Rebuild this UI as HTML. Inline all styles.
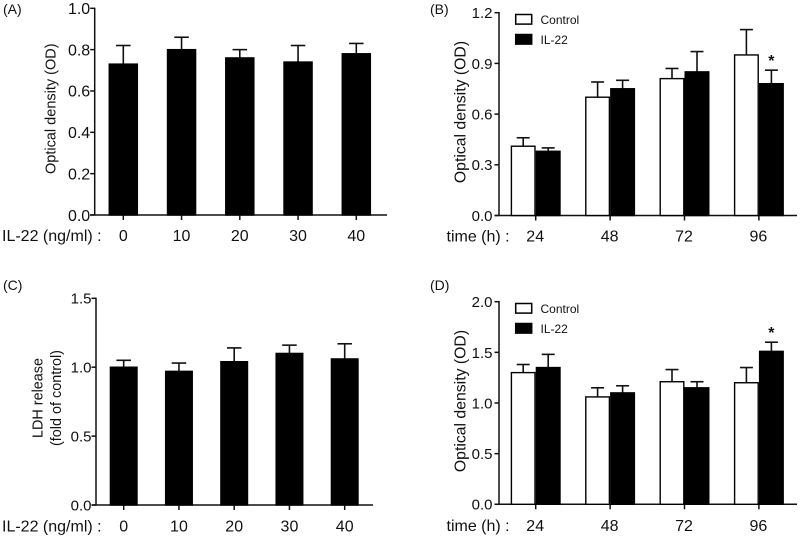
<!DOCTYPE html>
<html lang="en">
<head>
<meta charset="utf-8">
<title>IL-22 bar charts</title>
<style>
html,body{margin:0;padding:0;background:#fff;width:800px;height:538px;overflow:hidden}
svg{display:block}
text{font-family:"Liberation Sans",sans-serif;fill:#111}
</style>
</head>
<body>
<svg id="figure" width="800" height="538" viewBox="0 0 800 538" xmlns="http://www.w3.org/2000/svg"></svg>
<script>
// ---- data ----
const doseLabels = ['0', '10', '20', '30', '40'];
const timeLabels = ['24', '48', '72', '96'];

const ticksA = ['0.0', '0.2', '0.4', '0.6', '0.8', '1.0'];
const ticksB = ['0.0', '0.3', '0.6', '0.9', '1.2'];
const ticksC = ['0.0', '0.5', '1.0', '1.5'];
const ticksD = ['0.0', '0.5', '1.0', '1.5', '2.0'];

const valuesA = [0.73, 0.80, 0.76, 0.74, 0.78];
const errorTopsA = [0.82, 0.86, 0.80, 0.82, 0.83];

const controlB = [0.41, 0.70, 0.81, 0.95];
const controlTopsB = [0.46, 0.79, 0.87, 1.10];
const il22B = [0.38, 0.75, 0.85, 0.78];
const il22TopsB = [0.40, 0.80, 0.97, 0.86];
const starsB = [false, false, false, true];

const valuesC = [1.00, 0.97, 1.04, 1.10, 1.06];
const errorTopsC = [1.05, 1.03, 1.14, 1.16, 1.17];

const controlD = [1.30, 1.06, 1.21, 1.20];
const controlTopsD = [1.38, 1.15, 1.33, 1.35];
const il22D = [1.35, 1.10, 1.15, 1.51];
const il22TopsD = [1.48, 1.17, 1.21, 1.60];
const starsD = [false, false, false, true];

// ---- drawing helpers ----
const svg = document.getElementById('figure');
const NS = 'http://www.w3.org/2000/svg';

function make(parent, tag, attrs, text) {
  const el = document.createElementNS(NS, tag);
  for (const k in attrs) el.setAttribute(k, attrs[k]);
  if (text !== undefined) el.textContent = text;
  parent.appendChild(el);
  return el;
}

function line(parent, name, x1, y1, x2, y2, w) {
  const el = make(parent, 'line', {x1: x1, y1: y1, x2: x2, y2: y2, stroke: '#111', 'stroke-width': w});
  
  
  return el;
}

function label(parent, name, x, y, size, anchor, str) {
  const el = make(parent, 'text', {x: x, y: y, 'font-size': size, 'text-anchor': anchor}, str);
  
  
  return el;
}

function vLabel(parent, name, x, y, size, str) {
  const el = make(parent, 'text', {
    x: x, y: y, 'font-size': size, 'text-anchor': 'middle',
    transform: 'rotate(-90 ' + x + ' ' + y + ')'
  }, str);
  
  
  return el;
}

function drawBar(parent, name, cx, width, value, top, fill, scaleY, y0, capW) {
  const yTop = scaleY(value);
  const yErr = scaleY(top);
  line(parent, name + '-error-stem', cx, yTop, cx, yErr, 1.6);
  line(parent, name + '-error-cap', cx - capW / 2, yErr, cx + capW / 2, yErr, 1.6);
  const r = make(parent, 'rect', {
    x: cx - width / 2 + 0.7, y: yTop, width: width - 1.4, height: y0 - yTop,
    fill: fill, stroke: '#000', 'stroke-width': 1.4
  });
  
  
}

function drawAxes(g, p, ticks, cats) {
  const max = parseFloat(ticks[ticks.length - 1]);
  const scaleY = v => p.y0 - (v / max) * (p.y0 - p.yTop);
  line(g, 'y-axis', p.axisX, p.yTop - 0.7, p.axisX, p.y0, 1.5);
  line(g, 'x-axis', p.axisX - 4.5, p.y0, p.axisEnd, p.y0, 1.5);
  ticks.forEach(t => {
    const y = scaleY(parseFloat(t));
    line(g, 'y-tick', p.axisX - 4.5, y, p.axisX, y, 1.5);
    label(g, 'y-tick-label', p.axisX - p.tickGap, y + p.tickSize * 0.36, p.tickSize, 'end', t);
  });
  cats.forEach((c, i) => {
    const x = p.first + i * p.step;
    line(g, 'x-tick', x, p.y0, x, p.y0 + 5, 1.5);
    label(g, 'x-tick-label', x + p.catShift, p.labelY, p.catSize, 'middle', c);
  });
  return scaleY;
}

function singlePanel(id, p, ticks, cats, values, tops) {
  const g = make(svg, 'g', {});
  
  
  const scaleY = drawAxes(g, p, ticks, cats);
  values.forEach((v, i) => {
    drawBar(g, 'bar-' + cats[i], p.first + i * p.step, p.barW, v, tops[i], '#000', scaleY, p.y0, 14.5);
  });
  return g;
}

function groupedPanel(id, p, ticks, cats, ctrl, ctrlTops, il, ilTops, stars) {
  const g = make(svg, 'g', {});
  
  
  const scaleY = drawAxes(g, p, ticks, cats);
  cats.forEach((c, i) => {
    const cx = p.first + i * p.step;
    drawBar(g, 'control-bar-' + c, cx - p.barW / 2, p.barW, ctrl[i], ctrlTops[i], '#fff', scaleY, p.y0, 13);
    drawBar(g, 'il22-bar-' + c, cx + p.barW / 2, p.barW, il[i], ilTops[i], '#000', scaleY, p.y0, 13);
    if (stars[i]) {
      const s = label(g, 'significance-star', cx + p.barW / 2, scaleY(ilTops[i]) - 4, 16, 'middle', '*');
      s.setAttribute('font-weight', 'bold');
    }
  });
  // legend
  const ly = p.legendY;
  const c = make(g, 'rect', {x: 515.7, y: ly, width: 16, height: 9.6, fill: '#fff', stroke: '#000', 'stroke-width': 1.5});
  
  
  const d = make(g, 'rect', {x: 515.7, y: ly + 20, width: 16, height: 9.6, fill: '#000', stroke: '#000', 'stroke-width': 1.5});
  
  
  label(g, 'legend-label-control', 540.5, ly + 9.5, 12, 'start', 'Control');
  label(g, 'legend-label-il22', 540.5, ly + 29.5, 12, 'start', 'IL-22');
  return g;
}

// ---- panel A ----
const gA = singlePanel('a',
  {axisX: 94.7, axisEnd: 387, y0: 215, yTop: 8.3, first: 123.3, step: 58.25, barW: 29.5, labelY: 241, tickSize: 16, catSize: 16, tickGap: 4.5, catShift: 0},
  ticksA, doseLabels, valuesA, errorTopsA);
label(gA, 'panel-label-a', 3, 14, 14, 'start', '(A)');
vLabel(gA, 'y-axis-title', 55.6, 108.7, 14.5, 'Optical density (OD)');
label(gA, 'x-axis-title', 2, 241, 16, 'start', 'IL-22 (ng/ml) :');

// ---- panel B ----
const gB = groupedPanel('b',
  {axisX: 499, axisEnd: 797, y0: 215.5, yTop: 12.7, first: 535.7, step: 74.4, barW: 25, labelY: 241.5, tickSize: 15, catSize: 16, tickGap: 6.5, catShift: -0.5, legendY: 14.5},
  ticksB, timeLabels, controlB, controlTopsB, il22B, il22TopsB, starsB);
label(gB, 'panel-label-b', 430, 14, 14, 'start', '(B)');
vLabel(gB, 'y-axis-title', 465.7, 112, 15.8, 'Optical density (OD)');
label(gB, 'x-axis-title', 446.5, 241.5, 16, 'start', 'time (h) :');

// ---- panel C ----
const gC = singlePanel('c',
  {axisX: 96, axisEnd: 373, y0: 505, yTop: 298.3, first: 123.7, step: 55.25, barW: 28, labelY: 531.5, tickSize: 15, catSize: 16, tickGap: 4.5, catShift: 0},
  ticksC, doseLabels, valuesC, errorTopsC);
label(gC, 'panel-label-c', 3, 290, 14, 'start', '(C)');
vLabel(gC, 'y-axis-title-line-1', 42.7, 398, 14.4, 'LDH release');
vLabel(gC, 'y-axis-title-line-2', 61, 398, 14.4, '(fold of control)');
label(gC, 'x-axis-title', 2, 531.5, 16, 'start', 'IL-22 (ng/ml) :');

// ---- panel D ----
const gD = groupedPanel('d',
  {axisX: 499, axisEnd: 797, y0: 504.3, yTop: 301.7, first: 535.7, step: 74.4, barW: 25, labelY: 531, tickSize: 15, catSize: 16, tickGap: 6.5, catShift: -0.5, legendY: 303.5},
  ticksD, timeLabels, controlD, controlTopsD, il22D, il22TopsD, starsD);
label(gD, 'panel-label-d', 430, 290, 14, 'start', '(D)');
vLabel(gD, 'y-axis-title', 465.7, 401, 15.8, 'Optical density (OD)');
label(gD, 'x-axis-title', 446.5, 531, 16, 'start', 'time (h) :');
</script>
</body>
</html>
